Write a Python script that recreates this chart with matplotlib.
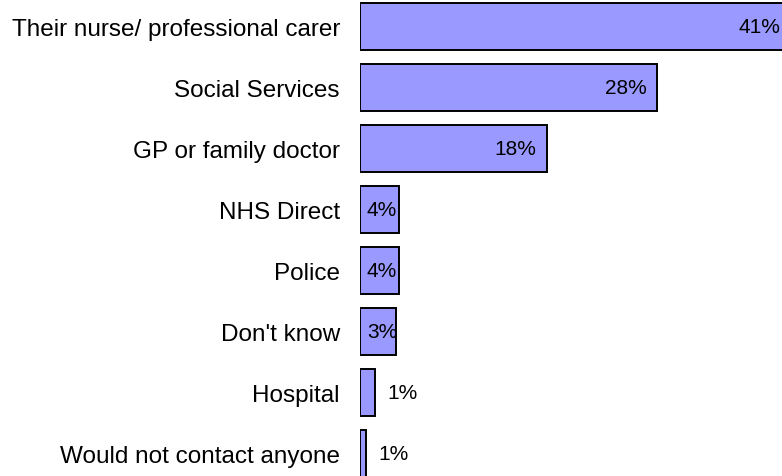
import matplotlib
matplotlib.use("Agg")
import matplotlib.pyplot as plt

# Who people would contact, % of respondents
categories = [
    "Their nurse/ professional carer",
    "Social Services",
    "GP or family doctor",
    "NHS Direct",
    "Police",
    "Don't know",
    "Hospital",
    "Would not contact anyone",
]
values = [41.0, 28.3, 17.8, 3.7, 3.7, 3.4, 1.4, 0.6]

plt.rcParams["font.family"] = ["Liberation Sans", "DejaVu Sans"]

fig = plt.figure(figsize=(7.82, 4.77), dpi=100)
ax = fig.add_axes([360 / 782, 0, 422 / 782, 1])

ypos = list(range(len(categories)))
ax.barh(ypos, values, height=0.78, color="#9999ff", edgecolor="black", linewidth=1.4)

ax.set_xlim(0, 422 / 10.5)
ax.set_ylim(7.369, -0.451)
ax.set_yticks(ypos)
ax.set_yticklabels(categories, fontsize=17.5)
ax.tick_params(axis="y", length=0, pad=14.4)
ax.set_xticks([])
for side in ax.spines.values():
    side.set_visible(False)

# value labels: inside the end for long bars, at the start for short ones, outside for tiny ones
for y, v in zip(ypos, values):
    txt = f"{v:.0f}%"
    if v >= 10:
        ax.annotate(txt, (v, y), xytext=(-7.5, 0), textcoords="offset points",
                    ha="right", va="center", fontsize=15, annotation_clip=False)
    elif v >= 2:
        ax.annotate(txt, (0, y), xytext=(5, 0), textcoords="offset points",
                    ha="left", va="center", fontsize=15)
    else:
        ax.annotate(txt, (v, y), xytext=(9, 0), textcoords="offset points",
                    ha="left", va="center", fontsize=15)

fig.savefig("out.png", dpi=100)
